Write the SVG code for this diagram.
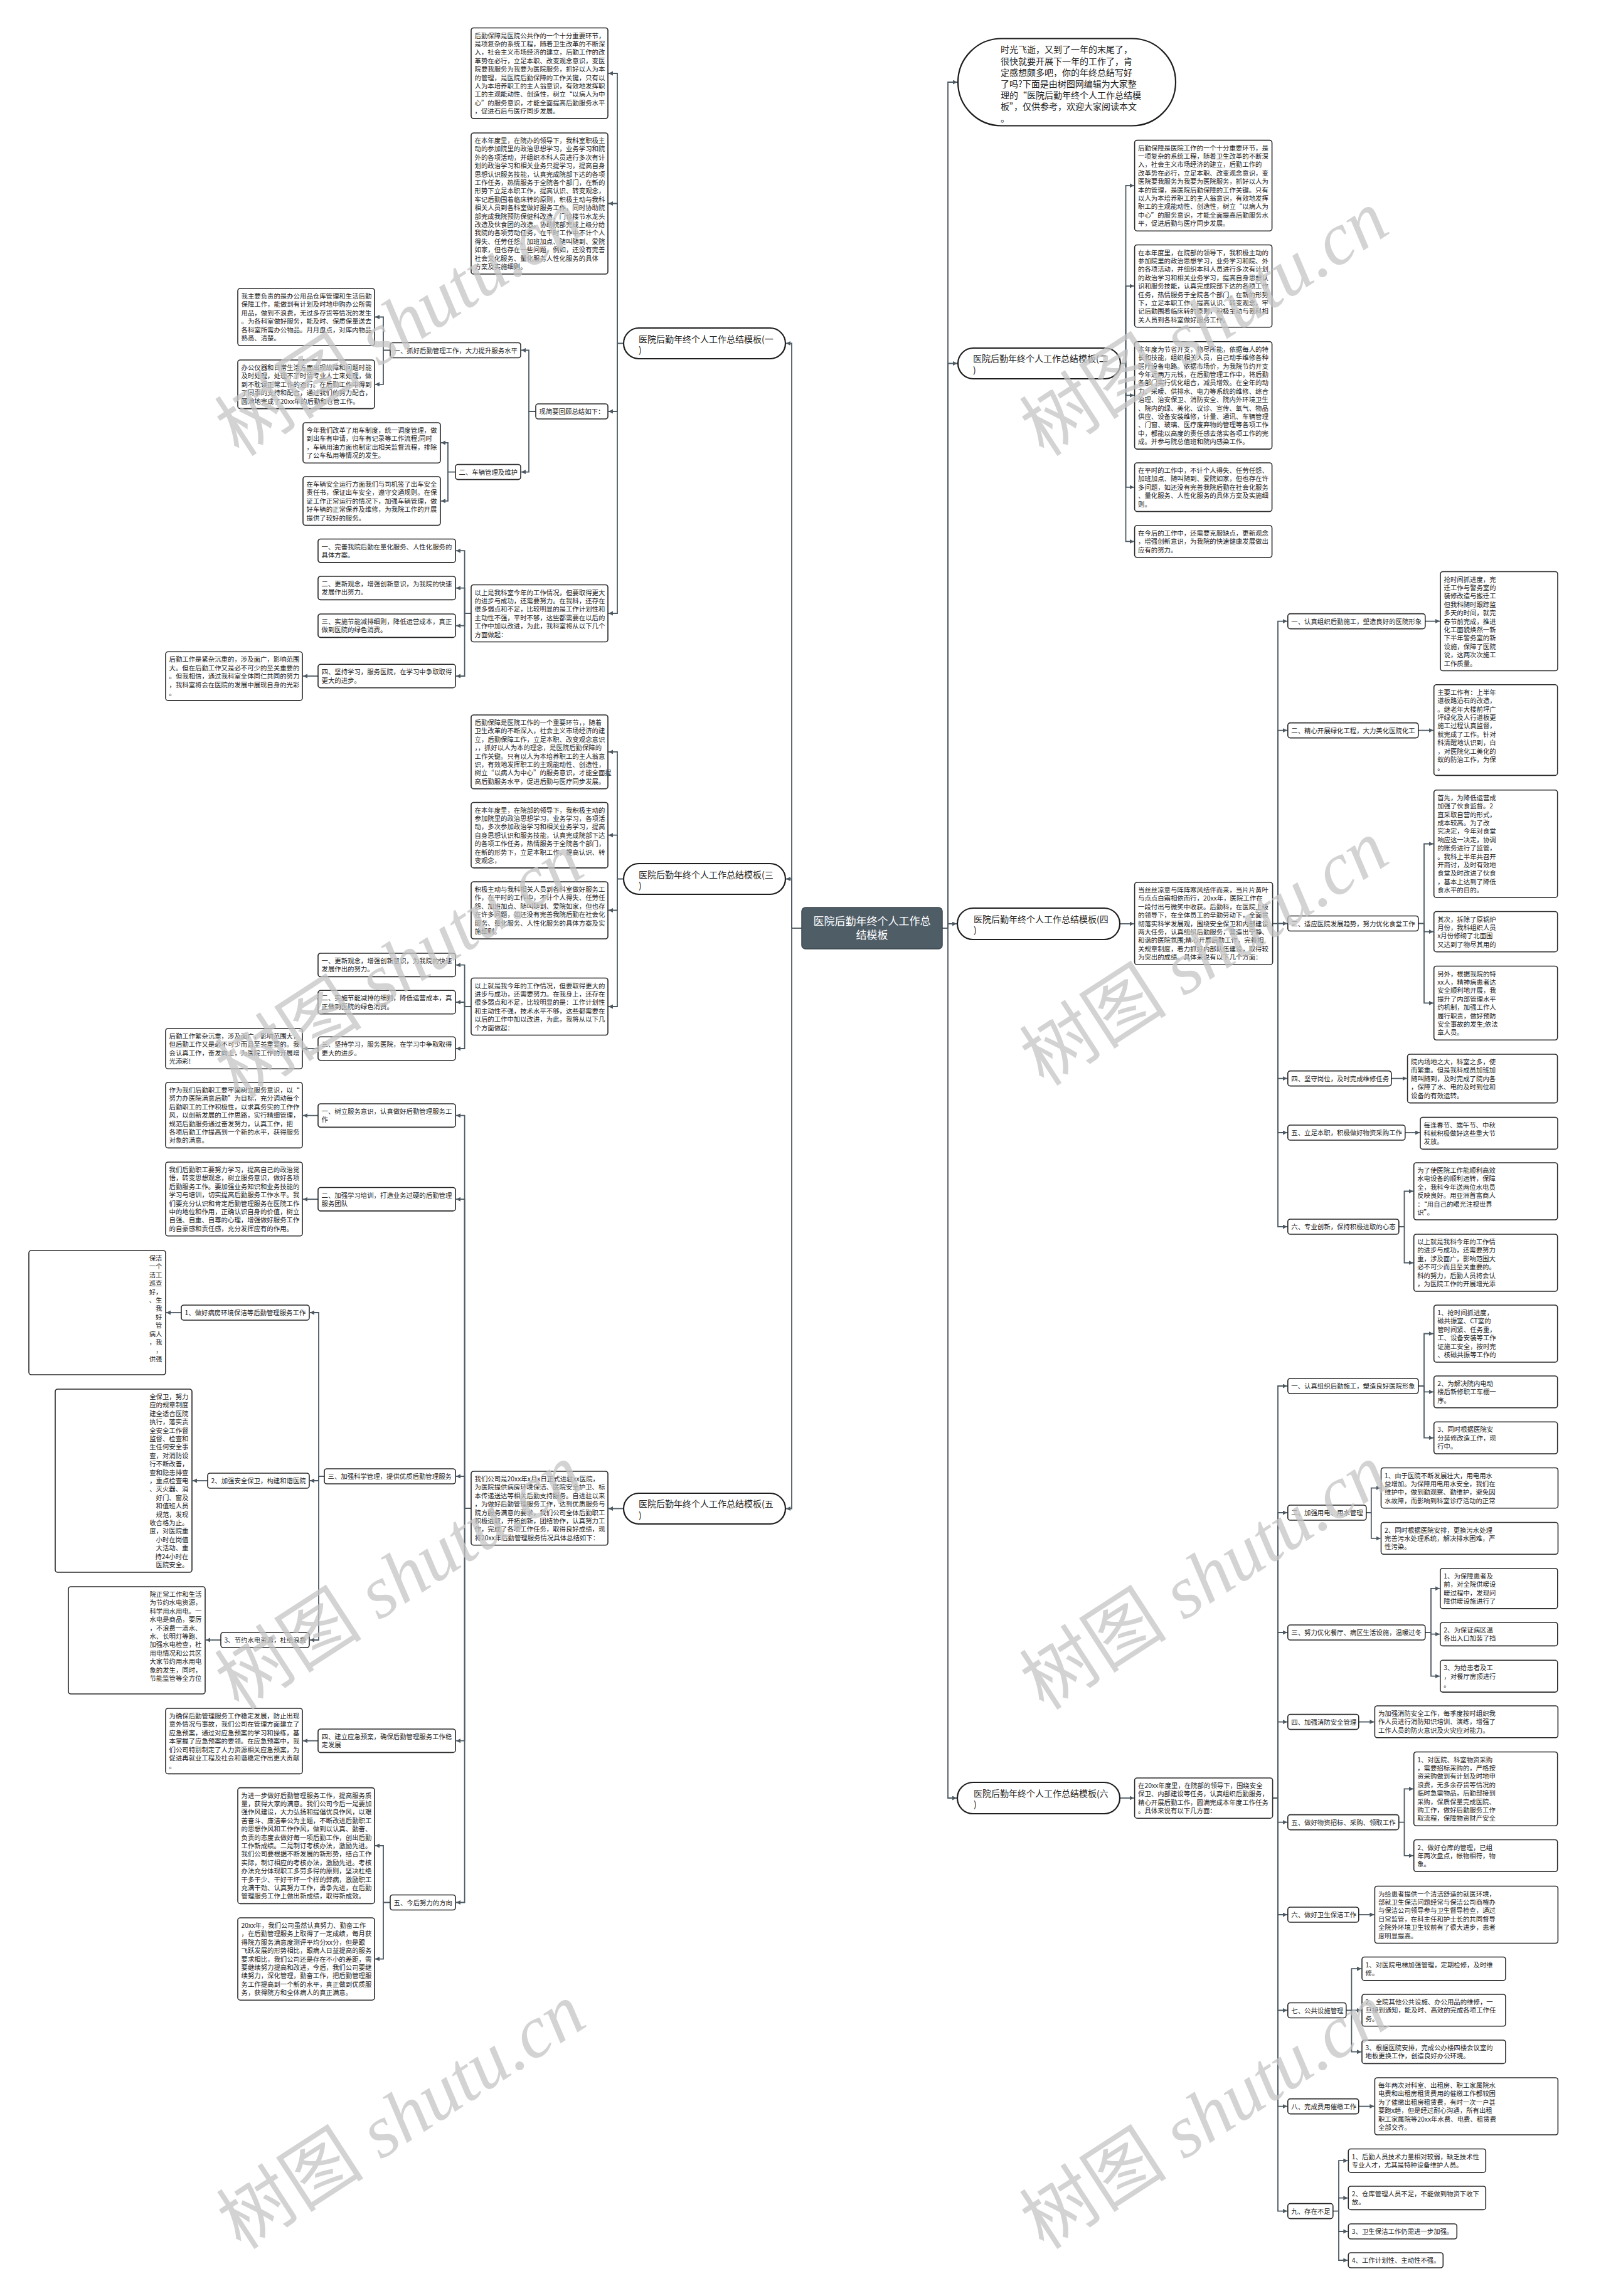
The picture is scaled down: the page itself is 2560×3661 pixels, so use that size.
<svg xmlns="http://www.w3.org/2000/svg" width="2560" height="3661" viewBox="0 0 2560 3661">
<style>
.bx{fill:#fff;stroke:#2a2a2a;stroke-width:1.6}
.pl{fill:#fff;stroke:#1e1e1e;stroke-width:2.2}
.t{font-family:"Noto Sans CJK SC","Liberation Sans",sans-serif;font-size:10.4px;fill:#222}
.te{font-family:"Noto Sans CJK SC","Liberation Sans",sans-serif;font-size:10.4px;fill:#222;text-anchor:end}
.tt{font-family:"Noto Sans CJK SC","Liberation Sans",sans-serif;font-size:14px;fill:#222}
.ct{font-family:"Noto Sans CJK SC","Liberation Sans",sans-serif;font-size:17px;fill:#fff}
.ln{fill:none;stroke:#4d5a63;stroke-width:1.8}
.wm{font-size:118px;fill:#c4c4c4;fill-opacity:0.75}
</style>
<defs>
<marker id="ar" markerUnits="userSpaceOnUse" markerWidth="8" markerHeight="8" refX="7" refY="3.5" orient="auto"><path d="M0,0 L7,3.5 L0,7 z" fill="#4d5a63"/></marker>
</defs>
<rect width="2560" height="3661" fill="#fff"/>
<g id="connectors">
<path class="ln" d="M1278,1480 H1262"/>
<path class="ln" marker-end="url(#ar)" d="M1262,1480 V547.5 H1253"/>
<path class="ln" marker-end="url(#ar)" d="M1262,1480 V1401.5 H1253"/>
<path class="ln" marker-end="url(#ar)" d="M1262,1480 V2405.5 H1253"/>
<path class="ln" marker-end="url(#ar)" d="M994,547.5 H984 V117 H970"/>
<path class="ln" marker-end="url(#ar)" d="M984,547.5 V324.5 H970"/>
<path class="ln" marker-end="url(#ar)" d="M984,547.5 V656 H970"/>
<path class="ln" marker-end="url(#ar)" d="M984,547.5 V978 H970"/>
<path class="ln" marker-end="url(#ar)" d="M854,656 H843 V558.5 H831"/>
<path class="ln" marker-end="url(#ar)" d="M843,656 V752.6 H831"/>
<path class="ln" marker-end="url(#ar)" d="M622,558.5 H611 V505.5 H598"/>
<path class="ln" marker-end="url(#ar)" d="M611,558.5 V612.8 H598"/>
<path class="ln" marker-end="url(#ar)" d="M726,752.6 H714 V706 H703"/>
<path class="ln" marker-end="url(#ar)" d="M714,752.6 V798.8 H703"/>
<path class="ln" marker-end="url(#ar)" d="M751,978 H740.6 V878.2 H727"/>
<path class="ln" marker-end="url(#ar)" d="M740.6,978 V937.7 H727"/>
<path class="ln" marker-end="url(#ar)" d="M740.6,978 V997.7 H727"/>
<path class="ln" marker-end="url(#ar)" d="M740.6,978 V1078 H727"/>
<path class="ln" marker-end="url(#ar)" d="M507,1078 H483"/>
<path class="ln" marker-end="url(#ar)" d="M994,1401.5 H984 V1198.9 H970"/>
<path class="ln" marker-end="url(#ar)" d="M984,1401.5 V1331.7 H970"/>
<path class="ln" marker-end="url(#ar)" d="M984,1401.5 V1451.5 H970"/>
<path class="ln" marker-end="url(#ar)" d="M984,1401.5 V1605 H970"/>
<path class="ln" marker-end="url(#ar)" d="M751,1605 H740.6 V1538.7 H727"/>
<path class="ln" marker-end="url(#ar)" d="M740.6,1605 V1598 H727"/>
<path class="ln" marker-end="url(#ar)" d="M740.6,1605 V1672 H727"/>
<path class="ln" marker-end="url(#ar)" d="M507,1672 H483"/>
<path class="ln" marker-end="url(#ar)" d="M994,2405.5 H970"/>
<path class="ln" marker-end="url(#ar)" d="M751,2405 H740.6 V1778.7 H727"/>
<path class="ln" marker-end="url(#ar)" d="M740.6,2405 V1912.2 H727"/>
<path class="ln" marker-end="url(#ar)" d="M740.6,2405 V2354 H727"/>
<path class="ln" marker-end="url(#ar)" d="M740.6,2405 V2775.7 H727"/>
<path class="ln" marker-end="url(#ar)" d="M740.6,2405 V3033.5 H727"/>
<path class="ln" marker-end="url(#ar)" d="M507,1778.7 H483"/>
<path class="ln" marker-end="url(#ar)" d="M507,1912.2 H483"/>
<path class="ln" marker-end="url(#ar)" d="M517,2354 H508 V2093 H494"/>
<path class="ln" marker-end="url(#ar)" d="M508,2354 V2361 H494"/>
<path class="ln" marker-end="url(#ar)" d="M508,2354 V2615 H494"/>
<path class="ln" marker-end="url(#ar)" d="M289,2093 H265"/>
<path class="ln" marker-end="url(#ar)" d="M331,2361 H307"/>
<path class="ln" marker-end="url(#ar)" d="M352,2615 H328"/>
<path class="ln" marker-end="url(#ar)" d="M507,2775.7 H483"/>
<path class="ln" marker-end="url(#ar)" d="M622,3033.5 H611 V2943 H598"/>
<path class="ln" marker-end="url(#ar)" d="M611,3033.5 V3123.6 H598"/>
<path class="ln" d="M1502,1480 H1511"/>
<path class="ln" marker-end="url(#ar)" d="M1511,1480 V131 H1526"/>
<path class="ln" marker-end="url(#ar)" d="M1511,1480 V579.5 H1526"/>
<path class="ln" marker-end="url(#ar)" d="M1511,1480 V1473 H1525"/>
<path class="ln" marker-end="url(#ar)" d="M1511,1480 V2867 H1525"/>
<path class="ln" marker-end="url(#ar)" d="M1786,579.5 H1794.5 V295.9 H1807.6"/>
<path class="ln" marker-end="url(#ar)" d="M1794.5,579.5 V456.1 H1807.6"/>
<path class="ln" marker-end="url(#ar)" d="M1794.5,579.5 V630.4 H1807.6"/>
<path class="ln" marker-end="url(#ar)" d="M1794.5,579.5 V776.8 H1807.6"/>
<path class="ln" marker-end="url(#ar)" d="M1794.5,579.5 V863.4 H1807.6"/>
<path class="ln" marker-end="url(#ar)" d="M1785,1473 H1807.6"/>
<path class="ln" marker-end="url(#ar)" d="M2028.6,1472.6 H2037 V990.6 H2051.8"/>
<path class="ln" marker-end="url(#ar)" d="M2037,1472.6 V1164.6 H2051.8"/>
<path class="ln" marker-end="url(#ar)" d="M2037,1472.6 V1472.5 H2051.8"/>
<path class="ln" marker-end="url(#ar)" d="M2037,1472.6 V1719.6 H2051.8"/>
<path class="ln" marker-end="url(#ar)" d="M2037,1472.6 V1806 H2051.8"/>
<path class="ln" marker-end="url(#ar)" d="M2037,1472.6 V1956 H2051.8"/>
<path class="ln" marker-end="url(#ar)" d="M2271.8,990.6 H2295"/>
<path class="ln" marker-end="url(#ar)" d="M2260.8,1164.6 H2284.7"/>
<path class="ln" marker-end="url(#ar)" d="M2260.8,1472.5 H2270 V1345.5 H2284.7"/>
<path class="ln" marker-end="url(#ar)" d="M2270,1472.5 V1485.6 H2284.7"/>
<path class="ln" marker-end="url(#ar)" d="M2270,1472.5 V1599.4 H2284.7"/>
<path class="ln" marker-end="url(#ar)" d="M2217.8,1719.6 H2242.6"/>
<path class="ln" marker-end="url(#ar)" d="M2239.8,1806 H2263"/>
<path class="ln" marker-end="url(#ar)" d="M2229.8,1956 H2238.5 V1899.5 H2252.7"/>
<path class="ln" marker-end="url(#ar)" d="M2238.5,1956 V2013.5 H2252.7"/>
<path class="ln" marker-end="url(#ar)" d="M1785,2867 H1807.6"/>
<path class="ln" marker-end="url(#ar)" d="M2028.6,2867 H2037 V2210 H2051.8"/>
<path class="ln" marker-end="url(#ar)" d="M2037,2867 V2412 H2051.8"/>
<path class="ln" marker-end="url(#ar)" d="M2037,2867 V2603 H2051.8"/>
<path class="ln" marker-end="url(#ar)" d="M2037,2867 V2745.6 H2051.8"/>
<path class="ln" marker-end="url(#ar)" d="M2037,2867 V2905.6 H2051.8"/>
<path class="ln" marker-end="url(#ar)" d="M2037,2867 V3053 H2051.8"/>
<path class="ln" marker-end="url(#ar)" d="M2037,2867 V3205.5 H2051.8"/>
<path class="ln" marker-end="url(#ar)" d="M2037,2867 V3358.6 H2051.8"/>
<path class="ln" marker-end="url(#ar)" d="M2037,2867 V3525.6 H2051.8"/>
<path class="ln" marker-end="url(#ar)" d="M2260.8,2210 H2270 V2126.5 H2284.7"/>
<path class="ln" marker-end="url(#ar)" d="M2270,2210 V2219.4 H2284.7"/>
<path class="ln" marker-end="url(#ar)" d="M2270,2210 V2292.7 H2284.7"/>
<path class="ln" marker-end="url(#ar)" d="M2177.8,2412 H2185.8 V2372.6 H2200.5"/>
<path class="ln" marker-end="url(#ar)" d="M2185.8,2412 V2452.9 H2200.5"/>
<path class="ln" marker-end="url(#ar)" d="M2271.8,2603 H2281 V2532.8 H2294.8"/>
<path class="ln" marker-end="url(#ar)" d="M2281,2603 V2605.7 H2294.8"/>
<path class="ln" marker-end="url(#ar)" d="M2281,2603 V2672.7 H2294.8"/>
<path class="ln" marker-end="url(#ar)" d="M2165.8,2745.6 H2190.4"/>
<path class="ln" marker-end="url(#ar)" d="M2229.8,2905.6 H2238.5 V2852.4 H2252.7"/>
<path class="ln" marker-end="url(#ar)" d="M2238.5,2905.6 V2958.9 H2252.7"/>
<path class="ln" marker-end="url(#ar)" d="M2165.8,3053 H2190.4"/>
<path class="ln" marker-end="url(#ar)" d="M2145.8,3205.5 H2154.4 V3139.2 H2170"/>
<path class="ln" marker-end="url(#ar)" d="M2154.4,3205.5 V3205.4 H2170"/>
<path class="ln" marker-end="url(#ar)" d="M2154.4,3205.5 V3271.7 H2170"/>
<path class="ln" marker-end="url(#ar)" d="M2165.8,3358.6 H2190.4"/>
<path class="ln" marker-end="url(#ar)" d="M2124.8,3525.6 H2134 V3445.2 H2148.3"/>
<path class="ln" marker-end="url(#ar)" d="M2134,3525.6 V3504.7 H2148.3"/>
<path class="ln" marker-end="url(#ar)" d="M2134,3525.6 V3558 H2148.3"/>
<path class="ln" marker-end="url(#ar)" d="M2134,3525.6 V3604 H2148.3"/>
</g>
<g id="center"><rect x="1278" y="1447" width="224" height="66" rx="6" fill="#4f5d67" stroke="#3a464e" stroke-width="1.5"/><text class="ct" x="1390" y="1475" text-anchor="middle">医院后勤年终个人工作总<tspan x="1390" dy="22">结模板</tspan></text></g>
<g id="t1"><rect class="pl" x="994" y="523" width="258" height="49" rx="24.5"/><text class="tt" x="1018" y="545.5">医院后勤年终个人工作总结模板(一<tspan x="1018" dy="17.8">)</tspan></text></g>
<g id="t3"><rect class="pl" x="994" y="1377" width="258" height="49" rx="24.5"/><text class="tt" x="1018" y="1399.5">医院后勤年终个人工作总结模板(三<tspan x="1018" dy="17.8">)</tspan></text></g>
<g id="t5"><rect class="pl" x="994" y="2381" width="258" height="49" rx="24.5"/><text class="tt" x="1018" y="2403">医院后勤年终个人工作总结模板(五<tspan x="1018" dy="17.8">)</tspan></text></g>
<g id="intro"><rect class="pl" x="1527" y="61.5" width="347" height="139" rx="69.5"/><text class="tt" x="1595" y="84.3">时光飞逝，又到了一年的末尾了，<tspan x="1595" dy="18.2">很快就要开展下一年的工作了，肯</tspan><tspan x="1595" dy="18.2">定感想颇多吧，你的年终总结写好</tspan><tspan x="1595" dy="18.2">了吗?下面是由树图网编辑为大家整</tspan><tspan x="1595" dy="18.2">理的“医院后勤年终个人工作总结模</tspan><tspan x="1595" dy="18.2">板”，仅供参考，欢迎大家阅读本文</tspan><tspan x="1595" dy="18.2">。</tspan></text></g>
<g id="t2"><rect class="pl" x="1527" y="555" width="259" height="49" rx="24.5"/><text class="tt" x="1551" y="577">医院后勤年终个人工作总结模板(二<tspan x="1551" dy="17.8">)</tspan></text></g>
<g id="t4"><rect class="pl" x="1526" y="1448" width="259" height="50" rx="25"/><text class="tt" x="1552" y="1470.5">医院后勤年终个人工作总结模板(四<tspan x="1552" dy="17.8">)</tspan></text></g>
<g id="t6"><rect class="pl" x="1526" y="2842" width="259" height="50" rx="25"/><text class="tt" x="1552" y="2864.5">医院后勤年终个人工作总结模板(六<tspan x="1552" dy="17.8">)</tspan></text></g>

<g id="a1"><rect class="bx" x="751" y="44.5" width="218" height="144.6" rx="4"/><text class="t" x="756.5" y="60.5">后勤保障是医院公共作的一个十分重要环节，<tspan x="756.5" dy="13.4">是项复杂的系统工程，随着卫生改革的不断深</tspan><tspan x="756.5" dy="13.4">入，社会主义市场经济的建立，后勤工作的改</tspan><tspan x="756.5" dy="13.4">革势在必行，立足本职、改变观念意识，变医</tspan><tspan x="756.5" dy="13.4">院要我服务为我要为医院服务，抓好以人为本</tspan><tspan x="756.5" dy="13.4">的管理，是医院后勤保障的工作关键，只有以</tspan><tspan x="756.5" dy="13.4">人为本培养职工的主人翁意识，有效地发挥职</tspan><tspan x="756.5" dy="13.4">工的主观能动性、创造性，树立“以病人为中</tspan><tspan x="756.5" dy="13.4">心”的服务意识，才能全面提高后勤服务水平</tspan><tspan x="756.5" dy="13.4">，促进石后与医疗同步发展。</tspan></text></g>
<g id="a2"><rect class="bx" x="751" y="212" width="218" height="225" rx="4"/><text class="t" x="756.5" y="228">在本年度里，在院办的领导下，我科室职极主<tspan x="756.5" dy="13.4">动的参加院里的政治思想学习，业务学习和院</tspan><tspan x="756.5" dy="13.4">外的各项活动，并组织本科人员进行多次有计</tspan><tspan x="756.5" dy="13.4">划的政治学习和相关业务只提学习，提高自身</tspan><tspan x="756.5" dy="13.4">思想认识服务技能，认真完成院部下达的各项</tspan><tspan x="756.5" dy="13.4">工作任务，热情服务于全院各个部门，在新的</tspan><tspan x="756.5" dy="13.4">形势下立足本职工作，提高认识、转变观念，</tspan><tspan x="756.5" dy="13.4">牢记后勤围着临床转的原则，积极主动与我科</tspan><tspan x="756.5" dy="13.4">相关人员到各科室做好服务工作，同时协助院</tspan><tspan x="756.5" dy="13.4">部完成我院预防保健科改造、门诊楼节水龙头</tspan><tspan x="756.5" dy="13.4">改造及伙食团的改造。协助院部完成上级分给</tspan><tspan x="756.5" dy="13.4">我院的各项劳动任务，在平时工作中不计个人</tspan><tspan x="756.5" dy="13.4">得失、任劳任怨、加班加点、随叫随到、爱院</tspan><tspan x="756.5" dy="13.4">如家，但也存在一些问题，例如，还没有完善</tspan><tspan x="756.5" dy="13.4">社会文化服务、量化服务人性化服务的具体</tspan><tspan x="756.5" dy="13.4">方案及实施细则。</tspan></text></g>
<g id="b"><rect class="bx" x="854" y="644" width="115" height="24" rx="4"/><text class="t" x="859.5" y="660">现简要回顾总结如下：</text></g>
<g id="c1"><rect class="bx" x="622" y="546.5" width="208" height="24" rx="4"/><text class="t" x="627.5" y="562.5">一、抓好后勤管理工作，大力提升服务水平</text></g>
<g id="c1a"><rect class="bx" x="379" y="460" width="218" height="91" rx="4"/><text class="t" x="384.5" y="476">我主要负责的是办公用品仓库管理和生活后勤<tspan x="384.5" dy="13.4">保障工作，能做到有计划及时地申购办公所需</tspan><tspan x="384.5" dy="13.4">用品，做到不浪费，无过多存货等情况的发生</tspan><tspan x="384.5" dy="13.4">。为各科室做好服务，能及时、保质保量送去</tspan><tspan x="384.5" dy="13.4">各科室所需办公物品。月月盘点，对库内物品</tspan><tspan x="384.5" dy="13.4">熟悉、清楚。</tspan></text></g>
<g id="c1b"><rect class="bx" x="379" y="574" width="218" height="77.6" rx="4"/><text class="t" x="384.5" y="590">办公仪器和日常生活方面出现故障和问题时能<tspan x="384.5" dy="13.4">及时处理，处理不了时请专业人士来处理，做</tspan><tspan x="384.5" dy="13.4">到不耽误正常工作的运行。在后勤工作中得到</tspan><tspan x="384.5" dy="13.4">了同事的支持和配合，通过我们的努力配合，</tspan><tspan x="384.5" dy="13.4">圆满地完成了20xx年的后勤和仓管工作。</tspan></text></g>
<g id="c2"><rect class="bx" x="726" y="740.6" width="104" height="24" rx="4"/><text class="t" x="731.5" y="756.6">二、车辆管理及维护</text></g>
<g id="c2a"><rect class="bx" x="483" y="674" width="219" height="64.2" rx="4"/><text class="t" x="488.5" y="690">今年我们改革了用车制度，统一调度管理，做<tspan x="488.5" dy="13.4">到出车有申请，归车有记录等工作流程;同时</tspan><tspan x="488.5" dy="13.4">，车辆用油方面也制定出相关监督流程，排除</tspan><tspan x="488.5" dy="13.4">了公车私用等情况的发生。</tspan></text></g>
<g id="c2b"><rect class="bx" x="483" y="760" width="219" height="77.6" rx="4"/><text class="t" x="488.5" y="776">在车辆安全运行方面我们与司机签了出车安全<tspan x="488.5" dy="13.4">责任书，保证出车安全，遵守交通规则。在保</tspan><tspan x="488.5" dy="13.4">证工作正常运行的情况下，加强车辆管理，做</tspan><tspan x="488.5" dy="13.4">好车辆的正常保养及维修，为我院工作的开展</tspan><tspan x="488.5" dy="13.4">提供了较好的服务。</tspan></text></g>
<g id="d"><rect class="bx" x="751" y="932.5" width="218" height="91" rx="4"/><text class="t" x="756.5" y="948.5">以上是我科室今年的工作情况，但要取得更大<tspan x="756.5" dy="13.4">的进步与成功，还需要努力。在我科，还存在</tspan><tspan x="756.5" dy="13.4">很多弱点和不足，比较明显的是工作计划性和</tspan><tspan x="756.5" dy="13.4">主动性不强，平时不够，这些都需要在以后的</tspan><tspan x="756.5" dy="13.4">工作中加以改进，为此，我科室将从以下几个</tspan><tspan x="756.5" dy="13.4">方面做起：</tspan></text></g>
<g id="d1"><rect class="bx" x="507" y="859.5" width="219" height="37.4" rx="4"/><text class="t" x="512.5" y="875.5">一、完善我院后勤在量化服务、人性化服务的<tspan x="512.5" dy="13.4">具体方案。</tspan></text></g>
<g id="d2"><rect class="bx" x="507" y="919" width="219" height="37.4" rx="4"/><text class="t" x="512.5" y="935">二、更新观念，增强创新意识，为我院的快速<tspan x="512.5" dy="13.4">发展作出努力。</tspan></text></g>
<g id="d3"><rect class="bx" x="507" y="979" width="219" height="37.4" rx="4"/><text class="t" x="512.5" y="995">三、实施节能减排细则，降低运营成本，真正<tspan x="512.5" dy="13.4">做到医院的绿色消费。</tspan></text></g>
<g id="d4"><rect class="bx" x="507" y="1059.3" width="219" height="37.4" rx="4"/><text class="t" x="512.5" y="1075.3">四、坚持学习，服务医院，在学习中争取取得<tspan x="512.5" dy="13.4">更大的进步。</tspan></text></g>
<g id="d4a"><rect class="bx" x="264" y="1039.3" width="218" height="77.6" rx="4"/><text class="t" x="269.5" y="1055.3">后勤工作是紧杂沉重的，涉及面广，影响范围<tspan x="269.5" dy="13.4">大。但在后勤工作又是必不可少的至关重要的</tspan><tspan x="269.5" dy="13.4">。但我相信，通过我科室全体同仁共同的努力</tspan><tspan x="269.5" dy="13.4">，我科室将会在医院的发展中展现自身的光彩</tspan><tspan x="269.5" dy="13.4">。</tspan></text></g>

<g id="e1"><rect class="bx" x="751" y="1140" width="218" height="117.8" rx="4"/><text class="t" x="756.5" y="1156">后勤保障是医院工作的一个重要环节，，随着<tspan x="756.5" dy="13.4">卫生改革的不断深入，社会主义市场经济的建</tspan><tspan x="756.5" dy="13.4">立，后勤保障工作，立足本职、改变观念意识</tspan><tspan x="756.5" dy="13.4">，，抓好以人为本的理念，是医院后勤保障的</tspan><tspan x="756.5" dy="13.4">工作关键。只有以人为本培养职工的主人翁意</tspan><tspan x="756.5" dy="13.4">识，有效地发挥职工的主观能动性、创造性，</tspan><tspan x="756.5" dy="13.4">树立“以病人为中心”的服务意识，才能全面提</tspan><tspan x="756.5" dy="13.4">高后勤服务水平，促进后勤与医疗同步发展。</tspan></text></g>
<g id="e2"><rect class="bx" x="751" y="1279.5" width="218" height="104.4" rx="4"/><text class="t" x="756.5" y="1295.5">在本年度里，在院部的领导下，我积极主动的<tspan x="756.5" dy="13.4">参加院里的政治思想学习，业务学习，各项活</tspan><tspan x="756.5" dy="13.4">动，多次参加政治学习和相关业务学习，提高</tspan><tspan x="756.5" dy="13.4">自身思想认识和服务技能，认真完成院部下达</tspan><tspan x="756.5" dy="13.4">的各项工作任务，热情服务于全院各个部门，</tspan><tspan x="756.5" dy="13.4">在新的形势下，立足本职工作，提高认识、转</tspan><tspan x="756.5" dy="13.4">变观念，</tspan></text></g>
<g id="e3"><rect class="bx" x="751" y="1406" width="218" height="91" rx="4"/><text class="t" x="756.5" y="1422">积极主动与我科相关人员到各科室做好服务工<tspan x="756.5" dy="13.4">作，在平时的工作中，不计个人得失、任劳任</tspan><tspan x="756.5" dy="13.4">怨、加班加点、随叫随到、爱院如家，但也存</tspan><tspan x="756.5" dy="13.4">在许多问题，如还没有完善我院后勤在社会化</tspan><tspan x="756.5" dy="13.4">服务、量化服务、人性化服务的具体方案及实</tspan><tspan x="756.5" dy="13.4">施细则。</tspan></text></g>
<g id="e4"><rect class="bx" x="751" y="1559.5" width="218" height="91" rx="4"/><text class="t" x="756.5" y="1575.5">以上就是我今年的工作情况，但要取得更大的<tspan x="756.5" dy="13.4">进步与成功，还需要努力。在我身上，还存在</tspan><tspan x="756.5" dy="13.4">很多弱点和不足，比较明显的是：工作计划性</tspan><tspan x="756.5" dy="13.4">和主动性不强，技术水平不够，这些都需要在</tspan><tspan x="756.5" dy="13.4">以后的工作中加以改进，为此，我将从以下几</tspan><tspan x="756.5" dy="13.4">个方面做起：</tspan></text></g>
<g id="e4a"><rect class="bx" x="507" y="1520" width="219" height="37.4" rx="4"/><text class="t" x="512.5" y="1536">一、更新观念，增强创新意识，为我院的快速<tspan x="512.5" dy="13.4">发展作出的努力。</tspan></text></g>
<g id="e4b"><rect class="bx" x="507" y="1579.3" width="219" height="37.4" rx="4"/><text class="t" x="512.5" y="1595.3">二、实施节能减排的细则，降低运营成本，真<tspan x="512.5" dy="13.4">正做到医院的绿色消费。</tspan></text></g>
<g id="e4c"><rect class="bx" x="507" y="1653.3" width="219" height="37.4" rx="4"/><text class="t" x="512.5" y="1669.3">三、坚持学习，服务医院，在学习中争取取得<tspan x="512.5" dy="13.4">更大的进步。</tspan></text></g>
<g id="e4c1"><rect class="bx" x="264" y="1640" width="218" height="64.2" rx="4"/><text class="t" x="269.5" y="1656">后勤工作繁杂沉重，涉及面广，影响范围大，<tspan x="269.5" dy="13.4">但后勤工作又是必不可少而且至关重要的。我</tspan><tspan x="269.5" dy="13.4">会认真工作，奋发向上，为医院工作的开展增</tspan><tspan x="269.5" dy="13.4">光添彩!</tspan></text></g>

<g id="f"><rect class="bx" x="751" y="2346" width="218" height="117.8" rx="4"/><text class="t" x="756.5" y="2362">我们公司是20xx年x月x日正式进驻xx医院，<tspan x="756.5" dy="13.4">为医院提供病房环境保洁、医院安全护卫、标</tspan><tspan x="756.5" dy="13.4">本传递送达等相关后勤支持服务。自进驻以来</tspan><tspan x="756.5" dy="13.4">，为做好后勤管理服务工作，达到优质服务与</tspan><tspan x="756.5" dy="13.4">院方服务满意的要求，我们公司全体后勤职工</tspan><tspan x="756.5" dy="13.4">积极进取，开拓创新，团结协作，认真努力工</tspan><tspan x="756.5" dy="13.4">作，完成了各项工作任务，取得良好成绩，现</tspan><tspan x="756.5" dy="13.4">将20xx年后勤管理服务情况具体总结如下：</tspan></text></g>
<g id="f1"><rect class="bx" x="507" y="1760" width="219" height="37.4" rx="4"/><text class="t" x="512.5" y="1776">一、树立服务意识，认真做好后勤管理服务工<tspan x="512.5" dy="13.4">作</tspan></text></g>
<g id="f1a"><rect class="bx" x="264" y="1726" width="218" height="104.4" rx="4"/><text class="t" x="269.5" y="1742">作为我们后勤职工要牢固树立服务意识，以“<tspan x="269.5" dy="13.4">努力办医院满意后勤”为目标，充分调动每个</tspan><tspan x="269.5" dy="13.4">后勤职工的工作积极性，以求真务实的工作作</tspan><tspan x="269.5" dy="13.4">风，以创新发展的工作思路，实行精细管理，</tspan><tspan x="269.5" dy="13.4">规范后勤服务通过奋发努力，认真工作，把</tspan><tspan x="269.5" dy="13.4">各项后勤工作提高到一个新的水平，获得服务</tspan><tspan x="269.5" dy="13.4">对象的满意。</tspan></text></g>
<g id="f2"><rect class="bx" x="507" y="1893.5" width="219" height="37.4" rx="4"/><text class="t" x="512.5" y="1909.5">二、加强学习培训，打造业务过硬的后勤管理<tspan x="512.5" dy="13.4">服务团队</tspan></text></g>
<g id="f2a"><rect class="bx" x="264" y="1853" width="218" height="117.8" rx="4"/><text class="t" x="269.5" y="1869">我们后勤职工要努力学习，提高自己的政治觉<tspan x="269.5" dy="13.4">悟，转变思想观念，树立服务意识，做好各项</tspan><tspan x="269.5" dy="13.4">后勤服务工作。要加强业务知识和业务技能的</tspan><tspan x="269.5" dy="13.4">学习与培训，切实提高后勤服务工作水平。我</tspan><tspan x="269.5" dy="13.4">们要充分认识和肯定后勤管理服务在医院工作</tspan><tspan x="269.5" dy="13.4">中的地位和作用，正确认识自身的价值，树立</tspan><tspan x="269.5" dy="13.4">自强、自重、自尊的心理，增强做好服务工作</tspan><tspan x="269.5" dy="13.4">的自豪感和责任感，充分发挥应有的作用。</tspan></text></g>
<g id="f3"><rect class="bx" x="517" y="2342" width="209" height="24" rx="4"/><text class="t" x="522.5" y="2358">三、加强科学管理，提供优质后勤管理服务</text></g>
<g id="f3a"><rect class="bx" x="289" y="2081" width="204" height="24" rx="4"/><text class="t" x="294.5" y="2097">1、做好病房环境保洁等后勤管理服务工作</text></g>
<g id="f3a1"><rect class="bx" x="46" y="1994" width="218" height="198" rx="4"/><text class="te" x="258.5" y="2010">保洁<tspan x="258.5" dy="13.4">一个</tspan><tspan x="258.5" dy="13.4">洁工</tspan><tspan x="258.5" dy="13.4">巡查</tspan><tspan x="258.5" dy="13.4">好，</tspan><tspan x="258.5" dy="13.4">、生</tspan><tspan x="258.5" dy="13.4">我</tspan><tspan x="258.5" dy="13.4">好</tspan><tspan x="258.5" dy="13.4">管</tspan><tspan x="258.5" dy="13.4">病人</tspan><tspan x="258.5" dy="13.4">，我</tspan><tspan x="258.5" dy="13.4">，</tspan><tspan x="258.5" dy="13.4">供强</tspan></text></g>
<g id="f3b"><rect class="bx" x="331" y="2349" width="162" height="24" rx="4"/><text class="t" x="336.5" y="2365">2、加强安全保卫，构建和谐医院</text></g>
<g id="f3b1"><rect class="bx" x="88" y="2215" width="218" height="292" rx="4"/><text class="te" x="300.5" y="2231">全保卫，努力<tspan x="300.5" dy="13.4">应的规章制度</tspan><tspan x="300.5" dy="13.4">建全适合医院</tspan><tspan x="300.5" dy="13.4">执行，落实责</tspan><tspan x="300.5" dy="13.4">全安全工作督</tspan><tspan x="300.5" dy="13.4">监督、检查和</tspan><tspan x="300.5" dy="13.4">生任何安全事</tspan><tspan x="300.5" dy="13.4">查，对消防设</tspan><tspan x="300.5" dy="13.4">行不断改善，</tspan><tspan x="300.5" dy="13.4">查和隐患排查</tspan><tspan x="300.5" dy="13.4">，重点检查电</tspan><tspan x="300.5" dy="13.4">、灭火器、消</tspan><tspan x="300.5" dy="13.4">好门、窗及</tspan><tspan x="300.5" dy="13.4">和值班人员</tspan><tspan x="300.5" dy="13.4">规范，发现</tspan><tspan x="300.5" dy="13.4">收合格为止。</tspan><tspan x="300.5" dy="13.4">度，对医院重</tspan><tspan x="300.5" dy="13.4">小时在岗值</tspan><tspan x="300.5" dy="13.4">大活动、重</tspan><tspan x="300.5" dy="13.4">持24小时在</tspan><tspan x="300.5" dy="13.4">医院安全。</tspan></text></g>
<g id="f3c"><rect class="bx" x="352" y="2603" width="141" height="24" rx="4"/><text class="t" x="357.5" y="2619">3、节约水电资源，杜绝浪费</text></g>
<g id="f3c1"><rect class="bx" x="109" y="2530" width="218" height="171" rx="4"/><text class="te" x="321.5" y="2546">院正常工作和生活<tspan x="321.5" dy="13.4">为节约水电资源，</tspan><tspan x="321.5" dy="13.4">科学用水用电。一</tspan><tspan x="321.5" dy="13.4">水电是商品，要厉</tspan><tspan x="321.5" dy="13.4">，不浪费一滴水、</tspan><tspan x="321.5" dy="13.4">水、长明灯等跑、</tspan><tspan x="321.5" dy="13.4">加强水电检查，杜</tspan><tspan x="321.5" dy="13.4">用电情况和公共区</tspan><tspan x="321.5" dy="13.4">大家节约用水用电</tspan><tspan x="321.5" dy="13.4">象的发生，同时，</tspan><tspan x="321.5" dy="13.4">节能监管等全方位</tspan></text></g>
<g id="f4"><rect class="bx" x="507" y="2757" width="219" height="37.4" rx="4"/><text class="t" x="512.5" y="2773">四、建立应急预案，确保后勤管理服务工作稳<tspan x="512.5" dy="13.4">定发展</tspan></text></g>
<g id="f4a"><rect class="bx" x="264" y="2724" width="218" height="104.4" rx="4"/><text class="t" x="269.5" y="2740">为确保后勤管理服务工作稳定发展，防止出现<tspan x="269.5" dy="13.4">意外情况与事故，我们公司在管理方面建立了</tspan><tspan x="269.5" dy="13.4">应急预案，通过对应急预案的学习和操练，基</tspan><tspan x="269.5" dy="13.4">本掌握了应急预案的要领。在应急预案中，我</tspan><tspan x="269.5" dy="13.4">们公司特别制定了人力资源相关应急预案，为</tspan><tspan x="269.5" dy="13.4">促进再就业工程及社会和谐稳定作出更大贡献</tspan><tspan x="269.5" dy="13.4">。</tspan></text></g>
<g id="f5"><rect class="bx" x="622" y="3021.5" width="104" height="24" rx="4"/><text class="t" x="627.5" y="3037.5">五、今后努力的方向</text></g>
<g id="f5a"><rect class="bx" x="379" y="2850.6" width="218" height="184.8" rx="4"/><text class="t" x="384.5" y="2866.6">为进一步做好后勤管理服务工作，提高服务质<tspan x="384.5" dy="13.4">量，获得大家的满意。我们公司今后一是要加</tspan><tspan x="384.5" dy="13.4">强作风建设，大力弘扬和提倡优良作风，以艰</tspan><tspan x="384.5" dy="13.4">苦奋斗、廉洁奉公为主题，不断改进后勤职工</tspan><tspan x="384.5" dy="13.4">的思想作风和工作作风，做到以认真、勤奋、</tspan><tspan x="384.5" dy="13.4">负责的态度去做好每一项后勤工作，创出后勤</tspan><tspan x="384.5" dy="13.4">工作新成绩。二是制订考核办法，激励先进。</tspan><tspan x="384.5" dy="13.4">我们公司要根据不断发展的新形势，结合工作</tspan><tspan x="384.5" dy="13.4">实际，制订相应的考核办法，激励先进。考核</tspan><tspan x="384.5" dy="13.4">办法充分体现职工多劳多得的原则，坚决杜绝</tspan><tspan x="384.5" dy="13.4">干多干少、干好干坏一个样的弊病，激励职工</tspan><tspan x="384.5" dy="13.4">充满干劲、认真努力工作，勇争先进，在后勤</tspan><tspan x="384.5" dy="13.4">管理服务工作上做出新成绩，取得新成效。</tspan></text></g>
<g id="f5b"><rect class="bx" x="379" y="3058" width="218" height="131.2" rx="4"/><text class="t" x="384.5" y="3074">20xx年，我们公司虽然认真努力、勤奋工作<tspan x="384.5" dy="13.4">，在后勤管理服务上取得了一定成绩，每月获</tspan><tspan x="384.5" dy="13.4">得院方服务满意度测评平均分xx分，但是跟</tspan><tspan x="384.5" dy="13.4">飞跃发展的形势相比，跟病人日益提高的服务</tspan><tspan x="384.5" dy="13.4">要求相比，我们公司还是存在不小的差距，需</tspan><tspan x="384.5" dy="13.4">要继续努力提高和改进，今后，我们公司要继</tspan><tspan x="384.5" dy="13.4">续努力，深化管理，勤奋工作，把后勤管理服</tspan><tspan x="384.5" dy="13.4">务工作提高到一个新的水平，真正做到优质服</tspan><tspan x="384.5" dy="13.4">务，获得院方和全体病人的真正满意。</tspan></text></g>

<g id="b1"><rect class="bx" x="1808.6" y="223.6" width="219" height="144.6" rx="4"/><text class="t" x="1814" y="239.6">后勤保障是医院工作的一个十分重要环节，是<tspan x="1814" dy="13.4">一项复杂的系统工程，随着卫生改革的不断深</tspan><tspan x="1814" dy="13.4">入，社会主义市场经济的建立，后勤工作的</tspan><tspan x="1814" dy="13.4">改革势在必行，立足本职、改变观念意识，变</tspan><tspan x="1814" dy="13.4">医院要我服务为我要为医院服务，抓好以人为</tspan><tspan x="1814" dy="13.4">本的管理，是医院后勤保障的工作关键。只有</tspan><tspan x="1814" dy="13.4">以人为本培养职工的主人翁意识，有效地发挥</tspan><tspan x="1814" dy="13.4">职工的主观能动性、创造性，树立“以病人为</tspan><tspan x="1814" dy="13.4">中心”的服务意识，才能全面提高后勤服务水</tspan><tspan x="1814" dy="13.4">平，促进后勤与医疗同步发展。</tspan></text></g>
<g id="b2"><rect class="bx" x="1808.6" y="390.5" width="219" height="131.2" rx="4"/><text class="t" x="1814" y="406.5">在本年度里，在院部的领导下，我积极主动的<tspan x="1814" dy="13.4">参加院里的政治思想学习，业务学习和院、外</tspan><tspan x="1814" dy="13.4">的各项活动，并组织本科人员进行多次有计划</tspan><tspan x="1814" dy="13.4">的政治学习和相关业务学习，提高自身思想认</tspan><tspan x="1814" dy="13.4">识和服务技能，认真完成院部下达的各项工作</tspan><tspan x="1814" dy="13.4">任务，热情服务于全院各个部门，在新的形势</tspan><tspan x="1814" dy="13.4">下，立足本职工作，提高认识、转变观念，牢</tspan><tspan x="1814" dy="13.4">记后勤围着临床转的原则，积极主动与我科相</tspan><tspan x="1814" dy="13.4">关人员到各科室做好服务工作。</tspan></text></g>
<g id="b3"><rect class="bx" x="1808.6" y="544.7" width="219" height="171.4" rx="4"/><text class="t" x="1814" y="560.7">本年度为节省开支，物尽所能，依据每人的特<tspan x="1814" dy="13.4">长和技能，组织相关人员，自己动手维修各种</tspan><tspan x="1814" dy="13.4">医疗设备电路。依据市场价，为我院节约开支</tspan><tspan x="1814" dy="13.4">今年近两万元钱，在后勤管理工作中，将后勤</tspan><tspan x="1814" dy="13.4">各部门实行优化组合，减员增效。在全年的动</tspan><tspan x="1814" dy="13.4">力、采暖、供排水、电力等系统的维修、综合</tspan><tspan x="1814" dy="13.4">治理、治安保卫、消防安全、院内外环境卫生</tspan><tspan x="1814" dy="13.4">、院内的绿、美化、议诊、宣传、氧气、物品</tspan><tspan x="1814" dy="13.4">供应、设备安装维修，计量、通讯、车辆管理</tspan><tspan x="1814" dy="13.4">、门窗、玻璃、医疗废弃物的管理等各项工作</tspan><tspan x="1814" dy="13.4">中，都能以高度的责任感去落实各项工作的完</tspan><tspan x="1814" dy="13.4">成。并参与院总值班和院内感染工作。</tspan></text></g>
<g id="b4"><rect class="bx" x="1808.6" y="738" width="219" height="77.6" rx="4"/><text class="t" x="1814" y="754">在平时的工作中，不计个人得失、任劳任怨、<tspan x="1814" dy="13.4">加班加点、随叫随到、爱院如家，但也存在许</tspan><tspan x="1814" dy="13.4">多问题，如还没有完善我院后勤在社会化服务</tspan><tspan x="1814" dy="13.4">、量化服务、人性化服务的具体方案及实施细</tspan><tspan x="1814" dy="13.4">则。</tspan></text></g>
<g id="b5"><rect class="bx" x="1808.6" y="838" width="219" height="50.8" rx="4"/><text class="t" x="1814" y="854">在今后的工作中，还需要克服缺点，更新观念<tspan x="1814" dy="13.4">，增强创新意识，为我院的快速健康发展做出</tspan><tspan x="1814" dy="13.4">应有的努力。</tspan></text></g>

<g id="g"><rect class="bx" x="1808.6" y="1407" width="220" height="131.2" rx="4"/><text class="t" x="1814" y="1423">当丝丝凉意与阵阵寒风结伴而来，当片片黄叶<tspan x="1814" dy="13.4">与点点白霜相依而行，20xx年，医院工作在</tspan><tspan x="1814" dy="13.4">一段付出与微笑中收获。后勤科，在医院上级</tspan><tspan x="1814" dy="13.4">的领导下，在全体员工的辛勤劳动下，全面贯</tspan><tspan x="1814" dy="13.4">彻落实科学发展观，围绕安全保卫和内部建设</tspan><tspan x="1814" dy="13.4">两大任务，认真组织后勤服务，营造出宁静、</tspan><tspan x="1814" dy="13.4">和谐的医院氛围;精心开展后勤工作，完善相</tspan><tspan x="1814" dy="13.4">关规章制度，着力抓好内部队伍建设，取得较</tspan><tspan x="1814" dy="13.4">为突出的成绩。具体来说有以下几个方面：</tspan></text></g>
<g id="g1"><rect class="bx" x="2052.8" y="978.6" width="219" height="24" rx="4"/><text class="t" x="2058.3" y="994.6">一、认真组织后勤施工，塑造良好的医院形象</text></g>
<g id="g1a"><rect class="bx" x="2296" y="911.5" width="187" height="158" rx="4"/><text class="t" x="2301.5" y="927.5">抢时间抓进度，完<tspan x="2301.5" dy="13.4">迁工作与警务室的</tspan><tspan x="2301.5" dy="13.4">装修改造与搬迁工</tspan><tspan x="2301.5" dy="13.4">但我科随时跟踪监</tspan><tspan x="2301.5" dy="13.4">多天的时间，就完</tspan><tspan x="2301.5" dy="13.4">春节前完成，推进</tspan><tspan x="2301.5" dy="13.4">化工面貌焕然一新</tspan><tspan x="2301.5" dy="13.4">下半年警务室的新</tspan><tspan x="2301.5" dy="13.4">设施，保障了医院</tspan><tspan x="2301.5" dy="13.4">说，这两次次施工</tspan><tspan x="2301.5" dy="13.4">工作质量。</tspan></text></g>
<g id="g2"><rect class="bx" x="2052.8" y="1152.6" width="208" height="24" rx="4"/><text class="t" x="2058.3" y="1168.6">二、精心开展绿化工程，大力美化医院化工</text></g>
<g id="g2a"><rect class="bx" x="2285.7" y="1091.8" width="197" height="144.6" rx="4"/><text class="t" x="2291.2" y="1107.8">主要工作有：上半年<tspan x="2291.2" dy="13.4">道板路沿石的改造，</tspan><tspan x="2291.2" dy="13.4">。继老年大楼前坪广</tspan><tspan x="2291.2" dy="13.4">坪绿化及人行道板更</tspan><tspan x="2291.2" dy="13.4">施工过程认真监督，</tspan><tspan x="2291.2" dy="13.4">就完成了工作。针对</tspan><tspan x="2291.2" dy="13.4">科清醒地认识到，白</tspan><tspan x="2291.2" dy="13.4">，对医院化工美化的</tspan><tspan x="2291.2" dy="13.4">蚁的防治工作，为保</tspan><tspan x="2291.2" dy="13.4">。</tspan></text></g>
<g id="g3"><rect class="bx" x="2052.8" y="1460.5" width="208" height="24" rx="4"/><text class="t" x="2058.3" y="1476.5">三、适应医院发展趋势，努力优化食堂工作</text></g>
<g id="g3a"><rect class="bx" x="2285.7" y="1259.8" width="197" height="171.4" rx="4"/><text class="t" x="2291.2" y="1275.8">首先，为降低运营成<tspan x="2291.2" dy="13.4">加强了伙食监督。2</tspan><tspan x="2291.2" dy="13.4">直采取自营的形式，</tspan><tspan x="2291.2" dy="13.4">成本较高。为了改</tspan><tspan x="2291.2" dy="13.4">究决定，今年对食堂</tspan><tspan x="2291.2" dy="13.4">响应这一决定，协调</tspan><tspan x="2291.2" dy="13.4">的账务进行了监管，</tspan><tspan x="2291.2" dy="13.4">。我科上半年共召开</tspan><tspan x="2291.2" dy="13.4">开商讨，及时有效地</tspan><tspan x="2291.2" dy="13.4">食堂及时改进了伙食</tspan><tspan x="2291.2" dy="13.4">，基本上达到了降低</tspan><tspan x="2291.2" dy="13.4">食水平的目的。</tspan></text></g>
<g id="g3b"><rect class="bx" x="2285.7" y="1453.5" width="197" height="64.2" rx="4"/><text class="t" x="2291.2" y="1469.5">其次，拆除了原锅炉<tspan x="2291.2" dy="13.4">月份，我科组织人员</tspan><tspan x="2291.2" dy="13.4">x月份修砌了北面围</tspan><tspan x="2291.2" dy="13.4">又达到了物尽其用的</tspan></text></g>
<g id="g3c"><rect class="bx" x="2285.7" y="1540.5" width="197" height="117.8" rx="4"/><text class="t" x="2291.2" y="1556.5">另外，根据我院的特<tspan x="2291.2" dy="13.4">xx人，精神病患者达</tspan><tspan x="2291.2" dy="13.4">安全顺利地开展，我</tspan><tspan x="2291.2" dy="13.4">提升了内部管理水平</tspan><tspan x="2291.2" dy="13.4">约机制，加强工作人</tspan><tspan x="2291.2" dy="13.4">履行职责，做好预防</tspan><tspan x="2291.2" dy="13.4">安全事故的发生;依法</tspan><tspan x="2291.2" dy="13.4">章人员。</tspan></text></g>
<g id="g4"><rect class="bx" x="2052.8" y="1707.6" width="165" height="24" rx="4"/><text class="t" x="2058.3" y="1723.6">四、坚守岗位，及时完成维修任务</text></g>
<g id="g4a"><rect class="bx" x="2243.6" y="1681" width="239" height="77.6" rx="4"/><text class="t" x="2249.1" y="1697">院内场地之大，科室之多，使<tspan x="2249.1" dy="13.4">而繁重。但是我科成员加班加</tspan><tspan x="2249.1" dy="13.4">随叫随到，及时完成了院内各</tspan><tspan x="2249.1" dy="13.4">，保障了水、电的及时到位和</tspan><tspan x="2249.1" dy="13.4">设备的有效运转。</tspan></text></g>
<g id="g5"><rect class="bx" x="2052.8" y="1794" width="187" height="24" rx="4"/><text class="t" x="2058.3" y="1810">五、立足本职，积极做好物资采购工作</text></g>
<g id="g5a"><rect class="bx" x="2264" y="1781.6" width="219" height="50.8" rx="4"/><text class="t" x="2269.5" y="1797.6">每逢春节、端午节、中秋<tspan x="2269.5" dy="13.4">科就积极做好这些重大节</tspan><tspan x="2269.5" dy="13.4">发放。</tspan></text></g>
<g id="g6"><rect class="bx" x="2052.8" y="1944" width="177" height="24" rx="4"/><text class="t" x="2058.3" y="1960">六、专业创新，保持积极进取的心态</text></g>
<g id="g6a"><rect class="bx" x="2253.7" y="1854" width="229" height="91" rx="4"/><text class="t" x="2259.2" y="1870">为了使医院工作能顺利高效<tspan x="2259.2" dy="13.4">水电设备的顺利运转，保障</tspan><tspan x="2259.2" dy="13.4">全，我科今年送两位水电员</tspan><tspan x="2259.2" dy="13.4">反映良好。用亚洲首富商人</tspan><tspan x="2259.2" dy="13.4">：“用自己的眼光注视世界</tspan><tspan x="2259.2" dy="13.4">识”。</tspan></text></g>
<g id="g6b"><rect class="bx" x="2253.7" y="1968" width="229" height="91" rx="4"/><text class="t" x="2259.2" y="1984">以上就是我科今年的工作情<tspan x="2259.2" dy="13.4">的进步与成功，还需要努力</tspan><tspan x="2259.2" dy="13.4">重，涉及面广，影响范围大</tspan><tspan x="2259.2" dy="13.4">必不可少而且至关重要的。</tspan><tspan x="2259.2" dy="13.4">科的努力，后勤人员将会认</tspan><tspan x="2259.2" dy="13.4">，为医院工作的开展增光添</tspan></text></g>

<g id="h"><rect class="bx" x="1808.6" y="2835" width="220" height="64.2" rx="4"/><text class="t" x="1814" y="2851">在20xx年度里，在院部的领导下，围绕安全<tspan x="1814" dy="13.4">保卫、内部建设等任务，认真组织后勤服务，</tspan><tspan x="1814" dy="13.4">精心开展后勤工作，圆满完成本年度工作任务</tspan><tspan x="1814" dy="13.4">。具体来说有以下几方面：</tspan></text></g>
<g id="h1"><rect class="bx" x="2052.8" y="2198" width="208" height="24" rx="4"/><text class="t" x="2058.3" y="2214">一、认真组织后勤施工，塑造良好医院形象</text></g>
<g id="h1a"><rect class="bx" x="2285.7" y="2081" width="197" height="91" rx="4"/><text class="t" x="2291.2" y="2097">1、抢时间抓进度，<tspan x="2291.2" dy="13.4">磁共振室、CT室的</tspan><tspan x="2291.2" dy="13.4">管时间紧、任务重，</tspan><tspan x="2291.2" dy="13.4">工、设备安装等工作</tspan><tspan x="2291.2" dy="13.4">证施工安全，按时完</tspan><tspan x="2291.2" dy="13.4">、核磁共振等工作的</tspan></text></g>
<g id="h1b"><rect class="bx" x="2285.7" y="2194" width="197" height="50.8" rx="4"/><text class="t" x="2291.2" y="2210">2、为解决院内电动<tspan x="2291.2" dy="13.4">楼后新修职工车棚一</tspan><tspan x="2291.2" dy="13.4">序。</tspan></text></g>
<g id="h1c"><rect class="bx" x="2285.7" y="2267.3" width="197" height="50.8" rx="4"/><text class="t" x="2291.2" y="2283.3">3、同时根据医院安<tspan x="2291.2" dy="13.4">分装修改造工作，现</tspan><tspan x="2291.2" dy="13.4">行中。</tspan></text></g>
<g id="h2"><rect class="bx" x="2052.8" y="2400" width="125" height="24" rx="4"/><text class="t" x="2058.3" y="2416">二、加强用电、用水管理</text></g>
<g id="h2a"><rect class="bx" x="2201.5" y="2340.5" width="282" height="64.2" rx="4"/><text class="t" x="2207" y="2356.5">1、由于医院不断发展壮大，用电用水<tspan x="2207" dy="13.4">益增加。为保障用电用水安全，我们在</tspan><tspan x="2207" dy="13.4">维护中，做到勤观察、勤维护，避免因</tspan><tspan x="2207" dy="13.4">水故障，而影响到科室诊疗活动的正常</tspan></text></g>
<g id="h2b"><rect class="bx" x="2201.5" y="2427.5" width="282" height="50.8" rx="4"/><text class="t" x="2207" y="2443.5">2、同时根据医院安排，更换污水处理<tspan x="2207" dy="13.4">完善污水处理系统，解决排水困难，严</tspan><tspan x="2207" dy="13.4">性污染。</tspan></text></g>
<g id="h3"><rect class="bx" x="2052.8" y="2591" width="219" height="24" rx="4"/><text class="t" x="2058.3" y="2607">三、努力优化餐厅、病区生活设施，温暖过冬</text></g>
<g id="h3a"><rect class="bx" x="2295.8" y="2500.7" width="187" height="64.2" rx="4"/><text class="t" x="2301.3" y="2516.7">1、为保障患者及<tspan x="2301.3" dy="13.4">前，对全院供暖设</tspan><tspan x="2301.3" dy="13.4">暖过程中，发现问</tspan><tspan x="2301.3" dy="13.4">障供暖设施进行了</tspan></text></g>
<g id="h3b"><rect class="bx" x="2295.8" y="2587" width="187" height="37.4" rx="4"/><text class="t" x="2301.3" y="2603">2、为保证病区温<tspan x="2301.3" dy="13.4">各出入口加装了挡</tspan></text></g>
<g id="h3c"><rect class="bx" x="2295.8" y="2647.3" width="187" height="50.8" rx="4"/><text class="t" x="2301.3" y="2663.3">3、为给患者及工<tspan x="2301.3" dy="13.4">，对餐厅房顶进行</tspan><tspan x="2301.3" dy="13.4">。</tspan></text></g>
<g id="h4"><rect class="bx" x="2052.8" y="2733.6" width="113" height="24" rx="4"/><text class="t" x="2058.3" y="2749.6">四、加强消防安全管理</text></g>
<g id="h4a"><rect class="bx" x="2191.4" y="2720" width="292" height="50.8" rx="4"/><text class="t" x="2196.9" y="2736">为加强消防安全工作，每季度按时组织我<tspan x="2196.9" dy="13.4">作人员进行消防知识培训、演练，增强了</tspan><tspan x="2196.9" dy="13.4">工作人员的防火意识及火灾应对能力。</tspan></text></g>
<g id="h5"><rect class="bx" x="2052.8" y="2893.6" width="177" height="24" rx="4"/><text class="t" x="2058.3" y="2909.6">五、做好物资招标、采购、领取工作</text></g>
<g id="h5a"><rect class="bx" x="2253.7" y="2793.5" width="229" height="117.8" rx="4"/><text class="t" x="2259.2" y="2809.5">1、对医院、科室物资采购<tspan x="2259.2" dy="13.4">，需要招标采购的，严格按</tspan><tspan x="2259.2" dy="13.4">资采购做到有计划及时地申</tspan><tspan x="2259.2" dy="13.4">浪费，无多余存货等情况的</tspan><tspan x="2259.2" dy="13.4">临时急需物品，后勤部接到</tspan><tspan x="2259.2" dy="13.4">采购，保质保量完成医院、</tspan><tspan x="2259.2" dy="13.4">购工作，做好后勤服务工作</tspan><tspan x="2259.2" dy="13.4">取流程，保障物资财产安全</tspan></text></g>
<g id="h5b"><rect class="bx" x="2253.7" y="2933.5" width="229" height="50.8" rx="4"/><text class="t" x="2259.2" y="2949.5">2、做好仓库的管理，已组<tspan x="2259.2" dy="13.4">年两次盘点，帐物相符，物</tspan><tspan x="2259.2" dy="13.4">象。</tspan></text></g>
<g id="h6"><rect class="bx" x="2052.8" y="3041" width="113" height="24" rx="4"/><text class="t" x="2058.3" y="3057">六、做好卫生保洁工作</text></g>
<g id="h6a"><rect class="bx" x="2191.4" y="3007.5" width="292" height="91" rx="4"/><text class="t" x="2196.9" y="3023.5">为给患者提供一个清洁舒适的就医环境，<tspan x="2196.9" dy="13.4">部就卫生保洁问题经常与保洁公司商榷办</tspan><tspan x="2196.9" dy="13.4">与保洁公司领导参与卫生督导检查，通过</tspan><tspan x="2196.9" dy="13.4">日常监管，在科主任和护士长的共同督导</tspan><tspan x="2196.9" dy="13.4">全院外环境卫生较前有了很大进步，患者</tspan><tspan x="2196.9" dy="13.4">度明显提高。</tspan></text></g>
<g id="h7"><rect class="bx" x="2052.8" y="3193.5" width="93" height="24" rx="4"/><text class="t" x="2058.3" y="3209.5">七、公共设施管理</text></g>
<g id="h7a"><rect class="bx" x="2171" y="3120.5" width="229" height="37.4" rx="4"/><text class="t" x="2176.5" y="3136.5">1、对医院电梯加强管理，定期检修，及时维<tspan x="2176.5" dy="13.4">修。</tspan></text></g>
<g id="h7b"><rect class="bx" x="2171" y="3180" width="229" height="50.8" rx="4"/><text class="t" x="2176.5" y="3196">2、全院其他公共设施、办公用品的维修，一<tspan x="2176.5" dy="13.4">旦接到通知，能及时、高效的完成各项工作任</tspan><tspan x="2176.5" dy="13.4">务。</tspan></text></g>
<g id="h7c"><rect class="bx" x="2171" y="3253" width="229" height="37.4" rx="4"/><text class="t" x="2176.5" y="3269">3、根据医院安排，完成公办楼四楼会议室的<tspan x="2176.5" dy="13.4">地板更换工作，创造良好办公环境。</tspan></text></g>
<g id="h8"><rect class="bx" x="2052.8" y="3346.6" width="113" height="24" rx="4"/><text class="t" x="2058.3" y="3362.6">八、完成费用催缴工作</text></g>
<g id="h8a"><rect class="bx" x="2191.4" y="3313" width="292" height="91" rx="4"/><text class="t" x="2196.9" y="3329">每年两次对科室、出租房、职工家属院水<tspan x="2196.9" dy="13.4">电费和出租房租赁费用的催缴工作都较困</tspan><tspan x="2196.9" dy="13.4">为了催缴出租房租赁费，有时一次一户甚</tspan><tspan x="2196.9" dy="13.4">要跑x趟，但是经过耐心沟通，所有出租</tspan><tspan x="2196.9" dy="13.4">职工家属院等20xx年水费、电费、租赁费</tspan><tspan x="2196.9" dy="13.4">全部交齐。</tspan></text></g>
<g id="h9"><rect class="bx" x="2052.8" y="3513.6" width="72" height="24" rx="4"/><text class="t" x="2058.3" y="3529.6">九、存在不足</text></g>
<g id="h9a"><rect class="bx" x="2149.3" y="3426.5" width="219" height="37.4" rx="4"/><text class="t" x="2154.8" y="3442.5">1、后勤人员技术力量相对较弱，缺乏技术性<tspan x="2154.8" dy="13.4">专业人才，尤其是特种设备维护人员。</tspan></text></g>
<g id="h9b"><rect class="bx" x="2149.3" y="3486" width="219" height="37.4" rx="4"/><text class="t" x="2154.8" y="3502">2、仓库管理人员不足，不能做到物资下收下<tspan x="2154.8" dy="13.4">放。</tspan></text></g>
<g id="h9c"><rect class="bx" x="2149.3" y="3546" width="173" height="24" rx="4"/><text class="t" x="2154.8" y="3562">3、卫生保洁工作仍需进一步加强。</text></g>
<g id="h9d"><rect class="bx" x="2149.3" y="3592" width="151" height="24" rx="4"/><text class="t" x="2154.8" y="3608">4、工作计划性、主动性不强。</text></g>

<g id="watermarks" class="wm">
<text transform="translate(637,516) rotate(-33)" text-anchor="middle" dy="40"><tspan font-family="Noto Sans CJK SC">树图</tspan><tspan font-family="Liberation Serif" font-style="italic"> shutu.cn</tspan></text>
<text transform="translate(1920,516) rotate(-33)" text-anchor="middle" dy="40"><tspan font-family="Noto Sans CJK SC">树图</tspan><tspan font-family="Liberation Serif" font-style="italic"> shutu.cn</tspan></text>
<text transform="translate(637,1540) rotate(-33)" text-anchor="middle" dy="40"><tspan font-family="Noto Sans CJK SC">树图</tspan><tspan font-family="Liberation Serif" font-style="italic"> shutu.cn</tspan></text>
<text transform="translate(1920,1520) rotate(-33)" text-anchor="middle" dy="40"><tspan font-family="Noto Sans CJK SC">树图</tspan><tspan font-family="Liberation Serif" font-style="italic"> shutu.cn</tspan></text>
<text transform="translate(637,2515) rotate(-33)" text-anchor="middle" dy="40"><tspan font-family="Noto Sans CJK SC">树图</tspan><tspan font-family="Liberation Serif" font-style="italic"> shutu.cn</tspan></text>
<text transform="translate(1920,2515) rotate(-33)" text-anchor="middle" dy="40"><tspan font-family="Noto Sans CJK SC">树图</tspan><tspan font-family="Liberation Serif" font-style="italic"> shutu.cn</tspan></text>
<text transform="translate(640,3375) rotate(-33)" text-anchor="middle" dy="40"><tspan font-family="Noto Sans CJK SC">树图</tspan><tspan font-family="Liberation Serif" font-style="italic"> shutu.cn</tspan></text>
<text transform="translate(1920,3375) rotate(-33)" text-anchor="middle" dy="40"><tspan font-family="Noto Sans CJK SC">树图</tspan><tspan font-family="Liberation Serif" font-style="italic"> shutu.cn</tspan></text>
</g>
</svg>
